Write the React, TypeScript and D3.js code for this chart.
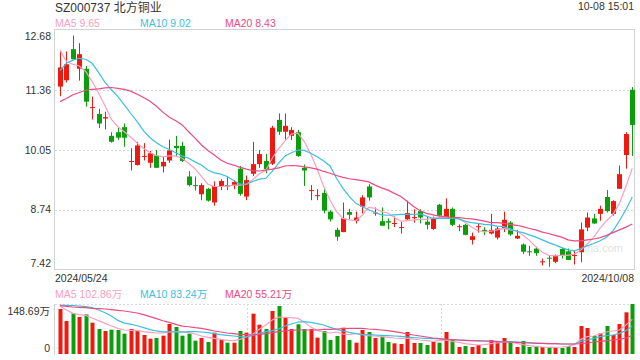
import React from 'react';
import * as d3 from 'd3';

const title = 'SZ000737 北方铜业';
const timeLabel = '10-08 15:01';
const dateLabels = ['2024/05/24', '2024/10/08'];
const priceTicks = [12.68, 11.36, 10.05, 8.74, 7.42];
const volTicks = ['148.69万', '0'];
const volMax = 148.69;

const maNames = ['MA5', 'MA10', 'MA20'];
const maLast = ['9.65', '9.02', '8.43'];
const volMaLast = ['102.86万', '83.24万', '55.21万'];

// daily candles, 2024/05/24 .. 2024/10/08
const open = [
  11.44, 11.58, 12.26, 11.83, 11.83, 10.98, 10.84, 10.74, 10.36, 10.44,
  10.55, 9.79, 9.72, 9.90, 9.77, 9.93, 9.69, 9.82, 10.14, 10.14,
  9.47, 9.28, 9.08, 9.20, 8.90, 9.26, 9.28, 9.27, 9.64, 9.03,
  9.53, 9.74, 9.81, 9.75, 10.71, 10.45, 10.36, 10.44, 9.66, 9.16,
  9.04, 9.11, 8.70, 8.30, 8.25, 8.69, 8.50, 8.81, 9.25, 8.67,
  8.49, 8.49, 8.44, 8.35, 8.53, 8.57, 8.71, 8.48, 8.32, 8.85,
  8.57, 8.76, 8.36, 8.41, 8.08, 8.37, 8.30, 8.22, 8.13, 8.32,
  8.46, 8.11, 7.98, 7.83, 7.89, 7.60, 7.69, 7.60, 7.88, 7.83,
  7.74, 7.81, 8.35, 8.55, 8.65, 9.02, 8.65, 9.20, 9.94, 11.37,
];
const high = [
  12.21, 12.21, 12.56, 12.39, 11.89, 11.22, 10.95, 10.89, 10.44, 10.55,
  10.63, 10.09, 10.23, 10.20, 10.03, 10.05, 9.90, 10.28, 10.36, 10.23,
  9.59, 9.47, 9.32, 9.22, 9.36, 9.41, 9.47, 9.39, 9.70, 9.49,
  10.23, 10.05, 9.96, 10.58, 10.85, 10.85, 10.55, 10.49, 9.73, 9.28,
  9.19, 9.21, 8.73, 8.35, 8.90, 8.76, 8.70, 9.06, 9.30, 8.79,
  8.79, 8.55, 8.59, 8.48, 8.94, 8.75, 8.75, 8.59, 8.59, 8.87,
  8.99, 8.79, 8.42, 8.43, 8.24, 8.43, 8.36, 8.65, 8.37, 8.70,
  8.49, 8.30, 8.00, 7.95, 7.93, 7.67, 7.74, 7.76, 7.91, 7.89,
  7.84, 8.46, 8.68, 8.65, 8.83, 9.17, 8.95, 9.71, 10.44, 11.43,
];
const low = [
  11.23, 11.53, 12.03, 11.57, 11.00, 10.72, 10.53, 10.50, 10.21, 10.27,
  10.12, 9.60, 9.71, 9.82, 9.66, 9.66, 9.56, 9.77, 9.92, 9.79,
  9.25, 9.16, 8.95, 8.92, 8.83, 9.17, 9.17, 9.19, 9.05, 8.95,
  9.48, 9.66, 9.54, 9.72, 10.38, 10.28, 10.27, 9.90, 9.26, 8.95,
  8.95, 8.66, 8.48, 8.06, 8.25, 8.53, 8.44, 8.66, 8.94, 8.61,
  8.39, 8.31, 8.36, 8.22, 8.52, 8.46, 8.44, 8.31, 8.30, 8.59,
  8.55, 8.38, 8.27, 8.18, 7.98, 8.24, 8.19, 8.20, 8.09, 8.25,
  8.17, 8.10, 7.77, 7.73, 7.73, 7.52, 7.49, 7.57, 7.67, 7.64,
  7.54, 7.59, 8.27, 8.43, 8.50, 8.68, 8.61, 9.20, 9.64, 9.92,
];
const close = [
  11.86, 11.93, 12.04, 12.15, 11.11, 10.99, 10.63, 10.77, 10.23, 10.32,
  10.32, 9.81, 10.15, 9.92, 9.98, 9.66, 9.79, 10.04, 10.09, 9.81,
  9.28, 9.27, 9.28, 8.94, 9.26, 9.37, 9.25, 9.35, 9.09, 9.39,
  9.74, 9.96, 9.63, 10.54, 10.45, 10.58, 10.49, 9.92, 9.60, 9.17,
  9.06, 8.72, 8.53, 8.15, 8.55, 8.63, 8.57, 9.01, 9.01, 8.68,
  8.39, 8.46, 8.45, 8.36, 8.67, 8.58, 8.57, 8.41, 8.55, 8.61,
  8.76, 8.41, 8.38, 8.19, 8.16, 8.38, 8.25, 8.30, 8.33, 8.52,
  8.20, 8.17, 7.82, 7.82, 7.79, 7.61, 7.68, 7.74, 7.75, 7.64,
  7.75, 8.31, 8.57, 8.44, 8.76, 8.71, 8.93, 9.52, 10.40, 10.60,
];
// volume in 万股
const volume = [
  133.8, 98.1, 120.9, 110.0, 117.9, 93.2, 74.3, 68.4, 72.3, 71.4,
  60.5, 74.3, 69.4, 56.5, 45.6, 47.6, 54.5, 89.2, 80.3, 54.5,
  60.5, 39.6, 47.6, 35.7, 63.4, 41.6, 33.7, 33.7, 68.4, 63.4,
  119.9, 87.2, 74.3, 127.9, 142.7, 108.1, 74.3, 88.2, 74.3, 74.3,
  48.6, 68.4, 41.6, 53.5, 78.3, 41.6, 33.7, 71.4, 65.4, 47.6,
  51.5, 35.7, 31.7, 29.7, 65.4, 32.7, 32.7, 26.8, 35.7, 33.7,
  65.4, 41.6, 20.8, 23.8, 20.8, 26.8, 17.8, 41.6, 34.7, 47.6,
  38.7, 20.8, 38.7, 20.8, 20.8, 20.8, 17.8, 17.8, 17.8, 23.8,
  20.8, 83.3, 77.3, 53.5, 61.4, 83.3, 56.5, 89.2, 124.0, 148.69,
];

const ma5 = [
  12.24, 11.99, 11.93, 11.89, 11.77, 11.55, 11.30, 11.02, 10.72, 10.56,
  10.45, 10.33, 10.20, 10.09, 9.99, 9.93, 9.90, 9.92, 9.92, 9.87,
  9.76, 9.64, 9.47, 9.30, 9.25, 9.25, 9.26, 9.28, 9.28, 9.30,
  9.40, 9.53, 9.60, 9.87, 10.08, 10.25, 10.40, 10.42, 10.23, 9.96,
  9.63, 9.25, 8.95, 8.70, 8.55, 8.52, 8.50, 8.62, 8.79, 8.77,
  8.70, 8.67, 8.57, 8.49, 8.50, 8.52, 8.53, 8.53, 8.55, 8.57,
  8.57, 8.57, 8.55, 8.46, 8.36, 8.28, 8.26, 8.27, 8.30, 8.33,
  8.30, 8.28, 8.18, 8.07, 7.93, 7.81, 7.74, 7.73, 7.74, 7.74,
  7.77, 7.86, 7.99, 8.14, 8.34, 8.50, 8.64, 8.88, 9.25, 9.65,
];
const ma10 = [
  11.79, 11.95, 12.02, 12.06, 12.04, 11.95, 11.75, 11.53, 11.37, 11.22,
  11.04, 10.85, 10.67, 10.47, 10.32, 10.21, 10.12, 10.06, 9.99, 9.92,
  9.87, 9.79, 9.72, 9.61, 9.55, 9.52, 9.47, 9.38, 9.30, 9.30,
  9.36, 9.41, 9.43, 9.58, 9.76, 9.92, 9.99, 10.05, 10.04, 9.98,
  9.90, 9.81, 9.70, 9.43, 9.21, 9.03, 8.88, 8.81, 8.74, 8.68,
  8.63, 8.62, 8.63, 8.64, 8.64, 8.64, 8.65, 8.60, 8.55, 8.55,
  8.55, 8.55, 8.54, 8.49, 8.46, 8.44, 8.42, 8.41, 8.38, 8.37,
  8.32, 8.27, 8.24, 8.19, 8.14, 8.08, 8.02, 7.97, 7.91, 7.86,
  7.84, 7.89, 7.95, 8.00, 8.06, 8.14, 8.28, 8.50, 8.74, 9.02,
];
const ma20 = [
  11.11, 11.18, 11.26, 11.31, 11.36, 11.38, 11.39, 11.41, 11.42, 11.40,
  11.38, 11.34, 11.27, 11.20, 11.12, 11.01, 10.88, 10.77, 10.69, 10.60,
  10.45, 10.31, 10.16, 10.04, 9.94, 9.83, 9.76, 9.72, 9.67, 9.63,
  9.60, 9.59, 9.61, 9.63, 9.66, 9.70, 9.71, 9.70, 9.68, 9.66,
  9.63, 9.58, 9.54, 9.49, 9.45, 9.42, 9.40, 9.38, 9.35, 9.28,
  9.22, 9.17, 9.10, 9.03, 8.92, 8.81, 8.72, 8.66, 8.63, 8.60,
  8.59, 8.57, 8.57, 8.55, 8.54, 8.52, 8.49, 8.46, 8.46, 8.44,
  8.42, 8.40, 8.37, 8.33, 8.30, 8.25, 8.22, 8.18, 8.14, 8.08,
  8.06, 8.06, 8.08, 8.10, 8.13, 8.18, 8.24, 8.30, 8.36, 8.43,
];

const volMa5 = [
  142.7, 130.8, 120.9, 116.9, 115.0, 107.0, 99.1, 91.2, 83.2, 76.3,
  71.4, 70.4, 69.4, 66.4, 64.4, 62.4, 62.4, 65.4, 66.4, 66.4,
  63.4, 59.5, 53.5, 49.6, 46.6, 43.6, 40.6, 39.6, 43.6, 51.5,
  59.5, 73.3, 86.2, 101.1, 110.0, 109.0, 108.0, 106.0, 95.0, 80.0,
  70.4, 65.4, 62.4, 65.4, 59.5, 57.5, 61.4, 57.5, 54.5, 53.5,
  51.5, 49.6, 47.6, 46.6, 46.6, 44.6, 41.6, 39.6, 37.7, 39.6,
  41.6, 37.7, 34.7, 30.7, 28.7, 26.8, 27.7, 30.7, 32.7, 35.7,
  35.7, 31.7, 27.7, 24.8, 22.8, 20.8, 19.8, 19.8, 20.8, 22.8,
  27.7, 43.6, 51.5, 53.5, 59.5, 65.4, 68.4, 71.4, 86.2, 102.86,
];
const volMa10 = [
  145.7, 144.7, 143.7, 142.7, 140.7, 137.7, 130.8, 122.9, 113.0, 100.0,
  92.0, 89.0, 84.0, 78.5, 72.5, 68.5, 66.0, 66.0, 66.0, 65.0,
  66.4, 66.4, 65.4, 63.4, 60.5, 57.5, 55.5, 53.5, 51.5, 50.5,
  55.5, 61.4, 66.4, 69.4, 74.3, 83.2, 89.2, 95.1, 96.1, 94.1,
  90.2, 86.2, 79.3, 73.3, 68.4, 64.4, 60.5, 58.5, 57.5, 56.5,
  55.5, 54.5, 53.5, 52.5, 50.5, 48.6, 47.6, 46.6, 45.6, 44.6,
  43.6, 42.6, 41.6, 40.6, 39.6, 39.6, 38.6, 38.6, 37.7, 36.7,
  36.7, 35.7, 34.7, 33.7, 32.7, 31.7, 30.7, 30.7, 29.7, 29.7,
  29.7, 37.7, 41.6, 46.6, 51.5, 54.5, 56.5, 61.4, 69.4, 83.24,
];
const volMa20 = [
  143.7, 141.7, 139.7, 138.7, 137.7, 135.8, 134.8, 133.8, 131.8, 129.8,
  127.8, 124.9, 121.9, 116.9, 111.0, 105.0, 99.0, 94.0, 88.0, 83.0,
  81.0, 78.3, 76.3, 72.3, 68.4, 65.4, 62.4, 60.5, 58.5, 57.5,
  56.5, 58.5, 60.5, 63.4, 66.4, 68.4, 70.4, 71.4, 71.4, 71.4,
  71.4, 73.3, 73.3, 74.3, 75.3, 76.3, 76.3, 76.3, 74.3, 73.3,
  71.4, 69.4, 66.4, 63.4, 59.5, 56.5, 53.5, 50.5, 47.6, 45.6,
  43.6, 42.6, 41.6, 40.6, 39.6, 38.6, 38.6, 37.7, 36.7, 35.7,
  35.7, 34.7, 33.7, 32.7, 31.7, 31.7, 30.7, 30.7, 29.7, 29.7,
  29.7, 30.7, 32.7, 35.7, 37.7, 39.6, 41.6, 43.6, 47.6, 55.21,
];

const font = '"Liberation Sans", Arial, "Noto Sans CJK SC", sans-serif';
const upColor = '#f0190f';
const downColor = '#0a9f0a';
const maColors = ['#f9a0c0', '#3cbfe0', '#ee4a7f'];
const legendX = [55, 140, 225];

export default function App() {
  const left = 54, right = 634, top = 30, bottom = 270;
  const volTop = 304, volBottom = 354;

  const idx = close.map((_, i) => i);
  const x = d3.scalePoint<number>().domain(idx).range([60, 632.3]);
  const y = d3.scaleLinear().domain([7.42, 12.68]).range([bottom, top]);
  const yv = d3.scaleLinear().domain([0, volMax]).range([volBottom, volTop]);
  const cx = (i: number) => Math.round(x(i)!) + 0.5;

  const priceLine = d3.line<number>().x((_, i) => x(i)!).y(d => y(d));
  const volLine = d3.line<number>().x((_, i) => x(i)!).y(d => yv(d));

  const thirds = [1, 2].map(k => Math.round(left + ((right - left) * k) / 3) + 0.5);

  return (
    <svg width={640} height={360} style={{ position: 'absolute', left: 0, top: 0, background: '#fff' }}
      fontFamily={font}>
      {/* header */}
      <text x={55} y={12} fontSize={12} fill="#333">{title}</text>
      <text x={634} y={10} fontSize={10.5} fill="#333" textAnchor="end">{timeLabel}</text>
      {maNames.map((n, k) => (
        <text key={n} x={legendX[k]} y={27} fontSize={10.5} fill={maColors[k]}>{n} {maLast[k]}</text>
      ))}

      {/* price panel frame + grid */}
      <rect x={left + 0.5} y={top - 0.5} width={right - left} height={bottom - top} fill="none" stroke="#d2d2d2" />
      {priceTicks.slice(1, -1).map(t => (
        <line key={t} x1={left + 1} x2={right} y1={Math.round(y(t)) + 0.5} y2={Math.round(y(t)) + 0.5}
          stroke="#d8d8d8" strokeDasharray="2 2" />
      ))}
      {priceTicks.map(t => {
        const ty = Math.min(Math.max(y(t), top + 6), bottom - 7);
        return (
          <text key={t} x={51} y={ty} dy="0.35em" fontSize={10.5} fill="#333" textAnchor="end">{t.toFixed(2)}</text>
        );
      })}
      <text x={623} y={252} fontSize={11} fill="#e2e2e2" textAnchor="end">sina.com</text>

      {/* candles */}
      {idx.map(i => {
        const up = close[i] >= open[i];
        const c = up ? upColor : downColor;
        const y0 = y(Math.max(open[i], close[i]));
        const h = Math.max(1, Math.abs(y(open[i]) - y(close[i])));
        return (
          <g key={i}>
            <line x1={cx(i)} x2={cx(i)} y1={y(high[i])} y2={y(low[i])} stroke={c} />
            <rect x={cx(i) - 2.5} y={y0} width={5} height={h} fill={c} />
          </g>
        );
      })}

      {[ma5, ma10, ma20].map((s, k) => (
        <path key={k} d={priceLine(s)!} fill="none" stroke={maColors[k]} strokeWidth={1.2} />
      ))}

      {/* dates */}
      <text x={55} y={282} fontSize={10.5} fill="#333">{dateLabels[0]}</text>
      <text x={634} y={282} fontSize={10.5} fill="#333" textAnchor="end">{dateLabels[1]}</text>

      {/* volume panel */}
      {maNames.map((n, k) => (
        <text key={n} x={legendX[k]} y={298} fontSize={10.5} fill={maColors[k]}>{n} {volMaLast[k]}</text>
      ))}
      <line x1={left + 0.5} x2={left + 0.5} y1={volTop} y2={volBottom + 1} stroke="#d2d2d2" />
      <line x1={left + 1} x2={right} y1={volTop + 0.5} y2={volTop + 0.5} stroke="#d8d8d8" strokeDasharray="2 2" />
      {thirds.map(tx => (
        <line key={tx} x1={tx} x2={tx} y1={volTop} y2={volBottom} stroke="#d8d8d8" strokeDasharray="2 2" />
      ))}
      <text x={50} y={311.5} dy="0.35em" fontSize={10.5} fill="#333" textAnchor="end">{volTicks[0]}</text>
      <text x={50} y={348} dy="0.35em" fontSize={10.5} fill="#333" textAnchor="end">{volTicks[1]}</text>

      {idx.map(i => (
        <rect key={i} x={Math.round(x(i)!) - 1.5} y={yv(volume[i])} width={4} height={volBottom - yv(volume[i])}
          fill={close[i] >= open[i] ? upColor : downColor} />
      ))}
      {[volMa5, volMa10, volMa20].map((s, k) => (
        <path key={k} d={volLine(s)!} fill="none" stroke={maColors[k]} strokeWidth={1.2} />
      ))}
    </svg>
  );
}
